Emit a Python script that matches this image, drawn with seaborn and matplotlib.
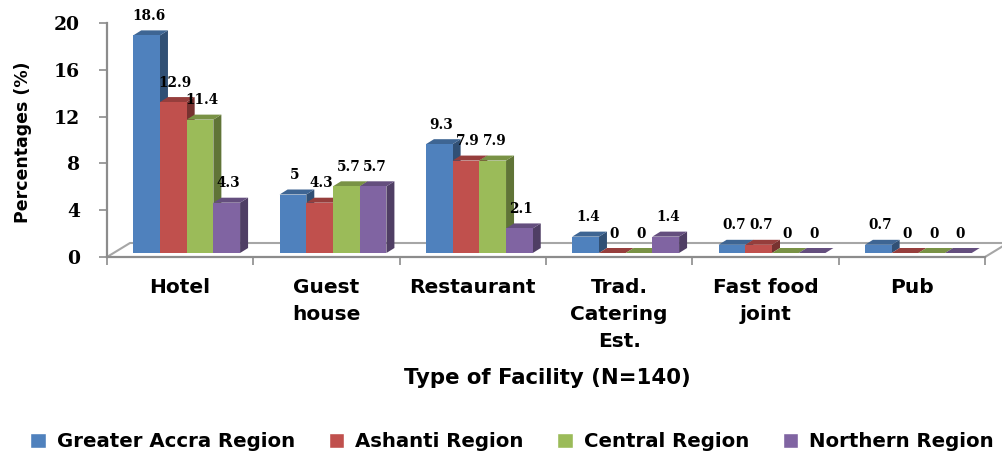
import numpy as np
import pandas as pd
import matplotlib
matplotlib.use("Agg")
import matplotlib.pyplot as plt
import seaborn as sns
from matplotlib.patches import Polygon
from matplotlib.transforms import ScaledTranslation
from matplotlib.colors import to_rgb

facilities = ["Hotel", "Guest\nhouse", "Restaurant", "Trad.\nCatering\nEst.", "Fast food\njoint", "Pub"]
regions = ["Greater Accra Region", "Ashanti Region", "Central Region", "Northern Region"]
greater_accra = [18.6, 5, 9.3, 1.4, 0.7, 0.7]
ashanti = [12.9, 4.3, 7.9, 0, 0.7, 0]
central = [11.4, 5.7, 7.9, 0, 0, 0]
northern = [4.3, 5.7, 2.1, 1.4, 0, 0]
colors = ["#4F81BD", "#C0504D", "#9BBB59", "#8064A2"]
yticks = [0, 4, 8, 12, 16, 20]

series = [greater_accra, ashanti, central, northern]
df = pd.DataFrame({
    "facility": facilities * len(regions),
    "region": np.repeat(regions, len(facilities)),
    "pct": np.concatenate(series),
})

sns.set_style("white")
plt.rcParams["font.family"] = ["DejaVu Sans"]
plt.rcParams["text.color"] = "black"
plt.rcParams["xtick.color"] = "black"
plt.rcParams["ytick.color"] = "black"

fig = plt.figure(figsize=(10.02, 4.57), dpi=100)
ax = fig.add_axes([107 / 1002, 200 / 457, 878 / 1002, 234 / 457])

sns.barplot(data=df, x="facility", y="pct", hue="region", order=facilities,
            hue_order=regions, palette=colors, width=0.73, saturation=1,
            errorbar=None, ax=ax)
handles, labels = ax.get_legend_handles_labels()
ax.get_legend().remove()

ax.set_xlim(-0.5, 5.5)
ax.set_ylim(0, 20)

# fake 3D look like the Excel chart
px_x = 878 / 6.0
px_y = 234 / 20.0
shift = ScaledTranslation(6.5 / 100, 4 / 100, fig.dpi_scale_trans)
trans = ax.transData + shift
ddx, ddy = 8 / px_x, 5 / px_y

for i, (cont, vals) in enumerate(zip(ax.containers, series)):
    base = np.array(to_rgb(colors[i]))
    for bar, v in zip(cont, vals):
        x0, w, h = bar.get_x(), bar.get_width(), bar.get_height()
        z = 3 + i * 0.1
        bar.set_transform(trans)
        bar.set_clip_on(False)
        bar.set_edgecolor("none")
        bar.set_zorder(z + 0.05)
        side = Polygon([(x0 + w, 0), (x0 + w, h), (x0 + w + ddx, h + ddy), (x0 + w + ddx, ddy)],
                       closed=True, facecolor=base * 0.62, edgecolor="none",
                       transform=trans, zorder=z, clip_on=False)
        top = Polygon([(x0, h), (x0 + w, h), (x0 + w + ddx, h + ddy), (x0 + ddx, h + ddy)],
                      closed=True, facecolor=base * 0.78, edgecolor="none",
                      transform=trans, zorder=z + 0.02, clip_on=False)
        ax.add_patch(side)
        ax.add_patch(top)
        ax.annotate(f"{v:g}", (x0 + w / 2, h), xycoords=trans, xytext=(1.5, 14),
                    textcoords="offset points", ha="center", va="center",
                    fontfamily="DejaVu Serif", fontweight="bold", fontsize=9.8,
                    color="black", zorder=10)

# floor
grey = "#8C8C8C"
fx, fy = 23 / px_x, 14 / px_y
ax.plot([-0.5, -0.5 + fx, 5.5 + fx], [0, fy, fy], color="#A6A6A6", lw=1.5,
        clip_on=False, zorder=1)
ax.plot([5.5, 5.5 + fx], [0, fy], color="#A6A6A6", lw=1.5, clip_on=False, zorder=1)

sns.despine(ax=ax)
for s in ["left", "bottom"]:
    ax.spines[s].set_color(grey)
    ax.spines[s].set_linewidth(1.6)

ax.set_yticks(yticks)
ax.set_yticklabels([str(t) for t in yticks], fontfamily="DejaVu Serif",
                   fontweight="bold", fontsize=13.5)
ax.tick_params(axis="y", direction="out", length=6, width=1.2, color=grey,
               labelcolor="black", pad=13.5, left=True)

ax.set_xticks(range(len(facilities)))
ax.set_xticklabels(facilities, fontweight="bold", fontsize=14.5, linespacing=1.55)
ax.set_xticks(np.arange(-0.5, 6, 1), minor=True)
ax.tick_params(axis="x", which="major", length=0, pad=15, labelcolor="black")
ax.tick_params(axis="x", which="minor", direction="out", length=6, width=1.2,
               color=grey, bottom=True)
ax.set_xlabel("")
ax.set_ylabel("")

fig.text(23 / 1002, 1 - 142 / 457, "Percentages (%)", rotation=90, ha="center",
         va="center", fontweight="bold", fontsize=12.5, color="black")
fig.text(547 / 1002, 1 - 378 / 457, "Type of Facility (N=140)", ha="center",
         va="center", fontweight="bold", fontsize=15.3, color="black")

fig.legend(handles, labels, loc="center", bbox_to_anchor=(0.511, 0.033), ncol=4,
           frameon=False, prop={"weight": "bold", "size": 14.2},
           handlelength=0.8, handleheight=0.8, handletextpad=0.55,
           columnspacing=1.7, borderaxespad=0)

fig.savefig("out.png", dpi=100)
